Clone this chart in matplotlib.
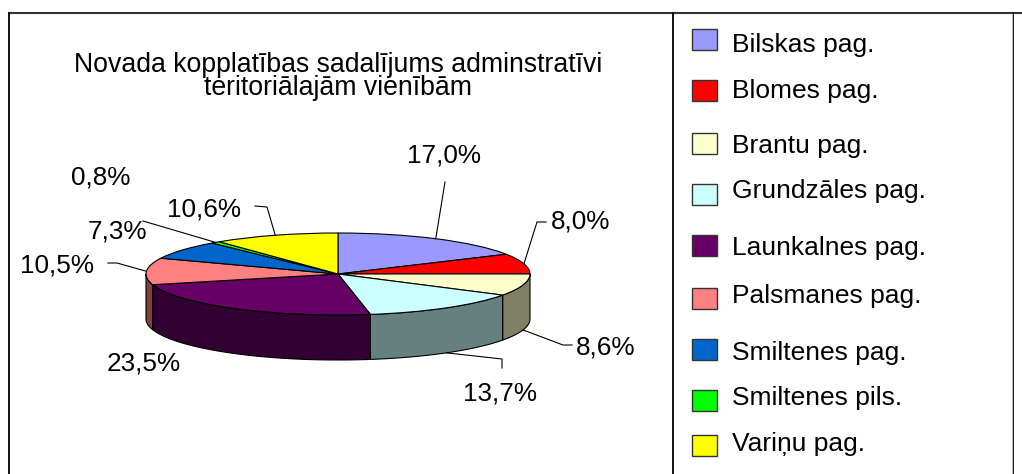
import numpy as np
import matplotlib.pyplot as plt
from matplotlib.patches import Polygon, Rectangle

# data
names = ["Bilskas pag.", "Blomes pag.", "Brantu pag.", "Grundzāles pag.", "Launkalnes pag.",
         "Palsmanes pag.", "Smiltenes pag.", "Smiltenes pils.", "Variņu pag."]
shares = [17.0, 8.0, 8.6, 13.7, 23.5, 10.5, 7.3, 0.8, 10.6]
colors = ["#9999FF", "#FF0000", "#FFFFCC", "#CCFFFF", "#660066",
          "#FF8080", "#0066CC", "#00FF00", "#FFFF00"]
title_lines = ["Novada kopplatības sadalījums adminstratīvi", "teritoriālajām vienībām"]

# layout (pixels, origin top-left)
W, H = 1022, 474
CX, CY, RX, RY, DEPTH = 338, 274, 192, 41, 45
# label centres and leader points that follow the anchor on the slice
label_pos = [(444, 156), (581, 222), (606, 348), (500, 393), (144, 364),
             (57, 266), (117, 232), (101, 177), (204, 209)]
leaders = [[(445, 182)], [(537, 222), (546, 222)], [(563, 345), (572, 345)],
           [(502, 359), (502, 368)], None, [(117, 263), (108, 263)], None,
           [(143, 221)], [(267, 207), (255, 206)]]
legend_sq_top = [29, 80, 133, 184, 235, 288, 339, 390, 435]
legend_txt_y = [45, 91, 146, 191, 248, 296, 353, 398, 444]

plt.rcParams['font.family'] = ['Liberation Sans', 'DejaVu Sans']
fig = plt.figure(figsize=(W / 100, H / 100), dpi=100)

# pie axes: x unit = RX px, y unit = RY px
pa = fig.add_axes([0, 0, 1, 1], zorder=1)
D = DEPTH / RY

shares_arr = np.array(shares)
ends = 90 - np.cumsum(shares_arr) * 3.6
starts = ends + shares_arr * 3.6

def dark(c):
    r, g, b = [int(c[i:i + 2], 16) / 255 for i in (1, 3, 5)]
    return (r * 0.5, g * 0.5, b * 0.5)

# visible front side of the cylinder
for s, e, c in zip(starts, ends, colors):
    lo, hi = max(e, -180), min(s, 0)
    if hi <= lo:
        continue
    t = np.radians(np.linspace(lo, hi, 80))
    top = np.column_stack([np.cos(t), np.sin(t)])
    bot = np.column_stack([np.cos(t), np.sin(t) - D])[::-1]
    pa.add_patch(Polygon(np.vstack([top, bot]), closed=True, facecolor=dark(c),
                         edgecolor='black', linewidth=0.8))

pa.pie(shares, colors=colors, startangle=90, counterclock=False, radius=1,
       wedgeprops=dict(edgecolor='black', linewidth=0.8))
pa.set_aspect('auto')
pa.set_xlim((0 - CX) / RX, (W - CX) / RX)
pa.set_ylim(-(H - CY) / RY, CY / RY)
pa.axis('off')

def to_pie(px, py):
    return (px - CX) / RX, (CY - py) / RY

# data labels and leader lines
for s, e, v, pos, ld in zip(starts, ends, shares, label_pos, leaders):
    pa.text(*to_pie(*pos), f"{v:.1f}%".replace('.', ','), fontsize=18.8,
            ha='center', va='center')
    if ld is None:
        continue
    mid = (s + e) / 2
    ax_, ay_ = np.cos(np.radians(mid)), np.sin(np.radians(mid))
    if -180 < mid < 0:
        # front slices: leader starts at the bottom edge of the side
        ay_ -= D
    pts = [(ax_, ay_)] + [to_pie(*p) for p in ld]
    xs, ys = zip(*pts)
    pa.plot(xs, ys, color='black', linewidth=0.8, clip_on=False)

# overlay axes in pixel coordinates
ov = fig.add_axes([0, 0, 1, 1], zorder=2)
ov.set_xlim(0, W)
ov.set_ylim(H, 0)
ov.axis('off')

ov.plot([9, W], [13, 13], color='#333333', linewidth=1.5)
for x in (9, 673, 1013):
    ov.plot([x, x], [13, H], color='#111111', linewidth=1.4)
ov.plot([1011.5, 1011.5], [14, H], color='#bbbbbb', linewidth=0.8)

ov.text(CX, 65, title_lines[0], fontsize=19.2, ha='center', va='center')
ov.text(CX, 88, title_lines[1], fontsize=19.2, ha='center', va='center')

for n, c, sq, ty in zip(names, colors, legend_sq_top, legend_txt_y):
    ov.add_patch(Rectangle((692, sq), 25, 21, facecolor=c, edgecolor='#333333', linewidth=1))
    ov.text(732, ty, n, fontsize=19, ha='left', va='center')

fig.savefig('out.png', dpi=100)
